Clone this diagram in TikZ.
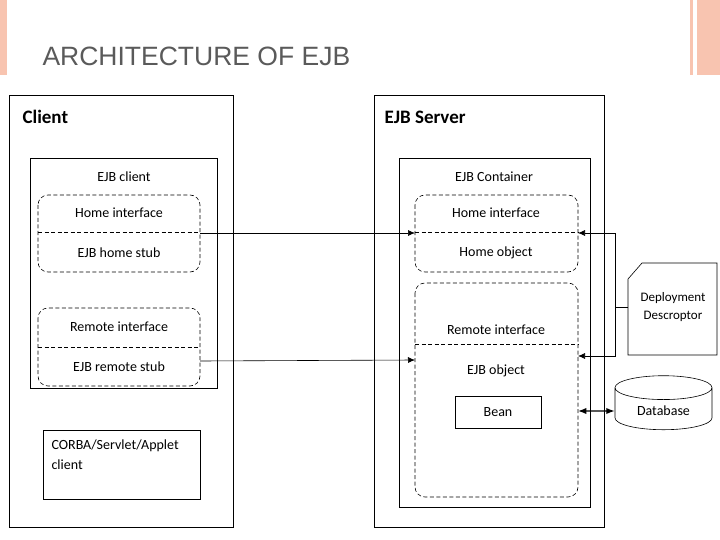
\documentclass[tikz,border=0pt]{standalone}
\usepackage{fontspec}
\setmainfont{Carlito}
\newfontfamily\titlefont{Liberation Sans}
\usetikzlibrary{shapes.geometric,arrows.meta}
\definecolor{slidebar}{RGB}{248,196,176}
\definecolor{titlegray}{RGB}{90,90,90}
\begin{document}
\begin{tikzpicture}[x=1pt,y=-1pt,>={Latex[length=7pt,width=6pt]},
  box/.style={draw,semithick},
  dbox/.style={draw,semithick,dash pattern=on 4pt off 2.5pt,rounded corners=10pt},
  lbl/.style={font=\fontsize{14}{16}\selectfont},
  head/.style={font=\fontsize{19}{21}\selectfont\bfseries,anchor=west}]
\useasboundingbox (0,0) rectangle (720,540);
% slide decoration
\fill[slidebar] (0,0) rectangle (7,75);
\fill[slidebar] (690,0) rectangle (693,75);
\fill[slidebar] (697,0) rectangle (720,75);
\node[anchor=west,text=titlegray,font=\titlefont\fontsize{26.5}{30}\selectfont] (title) at (39,56) {ARCHITECTURE OF EJB};

% client side
\draw[box] (9,95) rectangle (233,527);
\node[head] (client) at (19,117) {Client};
\draw[box] (30,158) rectangle (217,388);
\node[lbl] (ejbclient) at (124,177) {EJB client};
\draw[dbox] (38,195) rectangle (200,272);
\draw[dbox] (38,232) -- (200,232);
\node[lbl] (chome) at (119,213) {Home interface};
\node[lbl] (cstub) at (119,253) {EJB home stub};
\draw[dbox] (38,308) rectangle (200,386);
\draw[dbox] (38,347) -- (200,347);
\node[lbl] (cremote) at (119,327) {Remote interface};
\node[lbl] (crstub) at (119,367) {EJB remote stub};
\draw[box] (43,430) rectangle (200,499);
\node[lbl,anchor=north west,align=left] (corba) at (48,436) {CORBA/Servlet/Applet\\[4pt]client};

% server side
\draw[box] (374,95) rectangle (604,527);
\node[head] (server) at (381,117) {EJB Server};
\draw[box] (399,158) rectangle (590,507);
\node[lbl] (container) at (494,177) {EJB Container};
\draw[dbox] (415,195) rectangle (578,272);
\draw[dbox] (415,232) -- (578,232);
\node[lbl] (shome) at (496,213) {Home interface};
\node[lbl] (sobj) at (496,253) {Home object};
\draw[dbox] (415,283) rectangle (578,497);
\draw[dbox] (415,344) -- (578,344);
\node[lbl] (sremote) at (496,330) {Remote interface};
\node[lbl] (ejbobj) at (496,371) {EJB object};
\draw[box] (455,396) rectangle (541,428);
\node[lbl] (bean) at (498,412) {Bean};

% deployment descriptor and database
\draw[box] (642,263) -- (717,263) -- (717,355) -- (628,355) -- (628,279) -- cycle;
\node[font=\fontsize{13}{15}\selectfont,align=center] (dd) at (673,307) {Deployment\\[3pt]Descroptor};
\node[draw,semithick,cylinder,shape border rotate=90,aspect=0.4,minimum width=97pt,minimum height=54pt,lbl] (db) at (663.5,411) {Database};

% connectors
\coordinate (a1) at (200,233);
\coordinate (a2) at (415,233);
\coordinate (b1) at (200,361);
\coordinate (b2) at (415,360);
\draw[semithick,->] (a1) -- (a2);
\draw[semithick,->] (b1) -- (b2);
\coordinate (ddl) at (628,307);
\coordinate (ddj) at (615,307);
\draw[semithick] (ddl) -- (ddj);
\draw[semithick,->] (ddj) |- (578,233);
\draw[semithick,->] (ddj) |- (578,356);
\draw[{Latex}-{Latex},very thick] (578,411) -- (db.west);
\end{tikzpicture}
\end{document}
